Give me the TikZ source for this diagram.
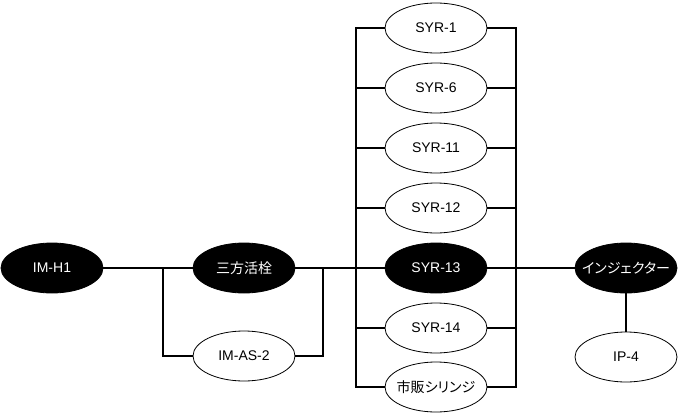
\documentclass[tikz,border=0pt]{standalone}
\usepackage{fontspec}
\setmainfont{Liberation Sans}
\newfontfamily\jpfont[RawFeature=+palt]{Noto Sans CJK JP}
\usepackage{tikz}
\usetikzlibrary{shapes.geometric,calc}
\tikzset{
  part/.style={ellipse, draw=black, line width=0.8pt, fill=white, minimum width=102pt, minimum height=50pt,
    inner xsep=-12pt, inner ysep=0pt, font=\fontsize{14}{16}\selectfont},
  partdark/.style={part, fill=black, text=white},
  pipe/.style={line width=1.8pt},
}
\begin{document}
\begin{tikzpicture}[x=1pt, y=-1pt]
  \useasboundingbox (0,0) rectangle (680,415);
  \node[partdark] (imh1) at (52,268) {IM-H1};
  \node[partdark] (cock) at (244,268) {\jpfont 三方活栓};
  \node[part] (imas2) at (244,356) {IM-AS-2};
  \node[part] (syr1) at (436,28) {SYR-1};
  \node[part] (syr6) at (436,88) {SYR-6};
  \node[part] (syr11) at (436,148) {SYR-11};
  \node[part] (syr12) at (436,208) {SYR-12};
  \node[partdark] (syr13) at (436,268) {SYR-13};
  \node[part] (syr14) at (436,328) {SYR-14};
  \node[part] (syrcom) at (436,387) {\jpfont 市販シリンジ};
  \node[partdark] (inj) at (626,268) {\jpfont インジェクター};
  \node[part] (ip4) at (626,357) {IP-4};
  \coordinate (lsplit) at (163,268);
  \coordinate (rsplit) at (323,268);
  \coordinate (lbus) at (356,268);
  \coordinate (rbus) at (516,268);
  \draw[pipe] (imh1) -- (cock);
  \draw[pipe] (lsplit) |- (imas2);
  \draw[pipe] (imas2) -| (rsplit);
  \draw[pipe] (cock) -- (lbus) -- (syr13);
  \draw[pipe] (syr13) -- (inj);
  \draw[pipe] (inj) -- (ip4);
  \draw[pipe] (syr1) -| (lbus |- syrcom) -- (syrcom);
  \draw[pipe] (syr1) -| (rbus |- syrcom) -- (syrcom);
  \foreach \n in {syr6,syr11,syr12,syr14}
    \draw[pipe] (lbus |- \n) -- (\n) (\n) -- (rbus |- \n);
\end{tikzpicture}
\end{document}
